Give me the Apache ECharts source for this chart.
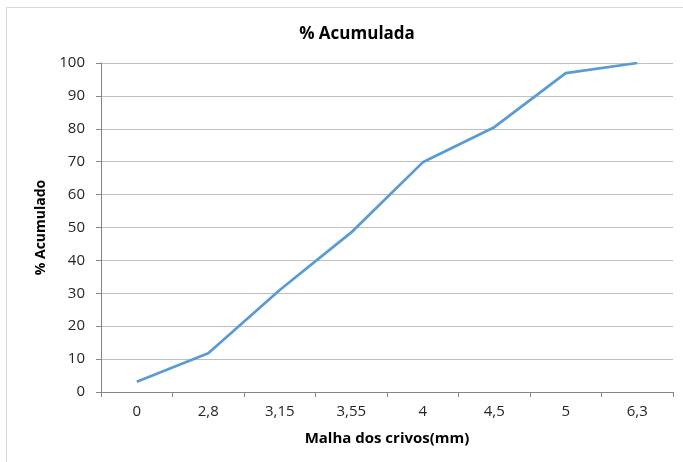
<!DOCTYPE html>
<html>
<head>
<meta charset="utf-8">
<script src="https://cdn.jsdelivr.net/npm/echarts@6/dist/echarts.min.js"></script>
<style>
html,body{margin:0;padding:0;background:#fff;}
#frame{position:absolute;left:6px;top:7px;width:690px;height:470px;border-left:1px solid #d9d9d9;border-top:1px solid #d9d9d9;}
#chart{position:absolute;left:0;top:0;width:683px;height:462px;}
</style>
</head>
<body>
<div id="frame"></div>
<div id="chart"></div>
<script>
const categories = ['0', '2,8', '3,15', '3,55', '4', '4,5', '5', '6,3'];
const acumulado = [3.1, 11.8, 31, 48.5, 69.8, 80.5, 96.9, 100];
const yTicks = { min: 0, max: 100, interval: 10 };

const font = "'Open Sans', 'Liberation Sans', sans-serif";
const chart = echarts.init(document.getElementById('chart'), null, { renderer: 'canvas' });
chart.setOption({
  backgroundColor: 'transparent',
  animation: false,
  title: {
    text: '% Acumulada',
    left: 352, top: 21, textAlign: 'center',
    textStyle: { fontFamily: font, fontSize: 17, fontWeight: 'bold', color: '#000' }
  },
  grid: { left: 101, right: 10, top: 63, bottom: 70 },
  xAxis: {
    type: 'category',
    data: categories,
    boundaryGap: true,
    name: 'Malha dos crivos(mm)',
    nameLocation: 'middle',
    nameGap: 39,
    nameTextStyle: { fontFamily: font, fontSize: 15, fontWeight: 'bold', color: '#000' },
    axisLine: { lineStyle: { color: '#868686', width: 1 } },
    axisTick: { show: true, length: 5, alignWithLabel: false, lineStyle: { color: '#868686' } },
    axisLabel: { fontFamily: font, fontSize: 15, color: '#262626', margin: 12 },
    splitLine: { show: false }
  },
  yAxis: {
    type: 'value',
    min: yTicks.min, max: yTicks.max, interval: yTicks.interval,
    name: '% Acumulado',
    nameLocation: 'middle',
    nameGap: 52,
    nameRotate: 90,
    nameTextStyle: { fontFamily: font, fontSize: 14, fontWeight: 'bold', color: '#000' },
    axisLine: { show: true, lineStyle: { color: '#868686', width: 1 } },
    axisTick: { show: true, length: 5, lineStyle: { color: '#868686' } },
    axisLabel: { fontFamily: font, fontSize: 15, color: '#262626', margin: 16 },
    splitLine: { show: true, lineStyle: { color: '#bfbfbf', width: 1 } }
  },
  series: [{
    type: 'line',
    data: acumulado,
    symbol: 'none',
    smooth: false,
    lineStyle: { color: '#5b9bd5', width: 2.75 }
  }]
});
</script>
</body>
</html>
